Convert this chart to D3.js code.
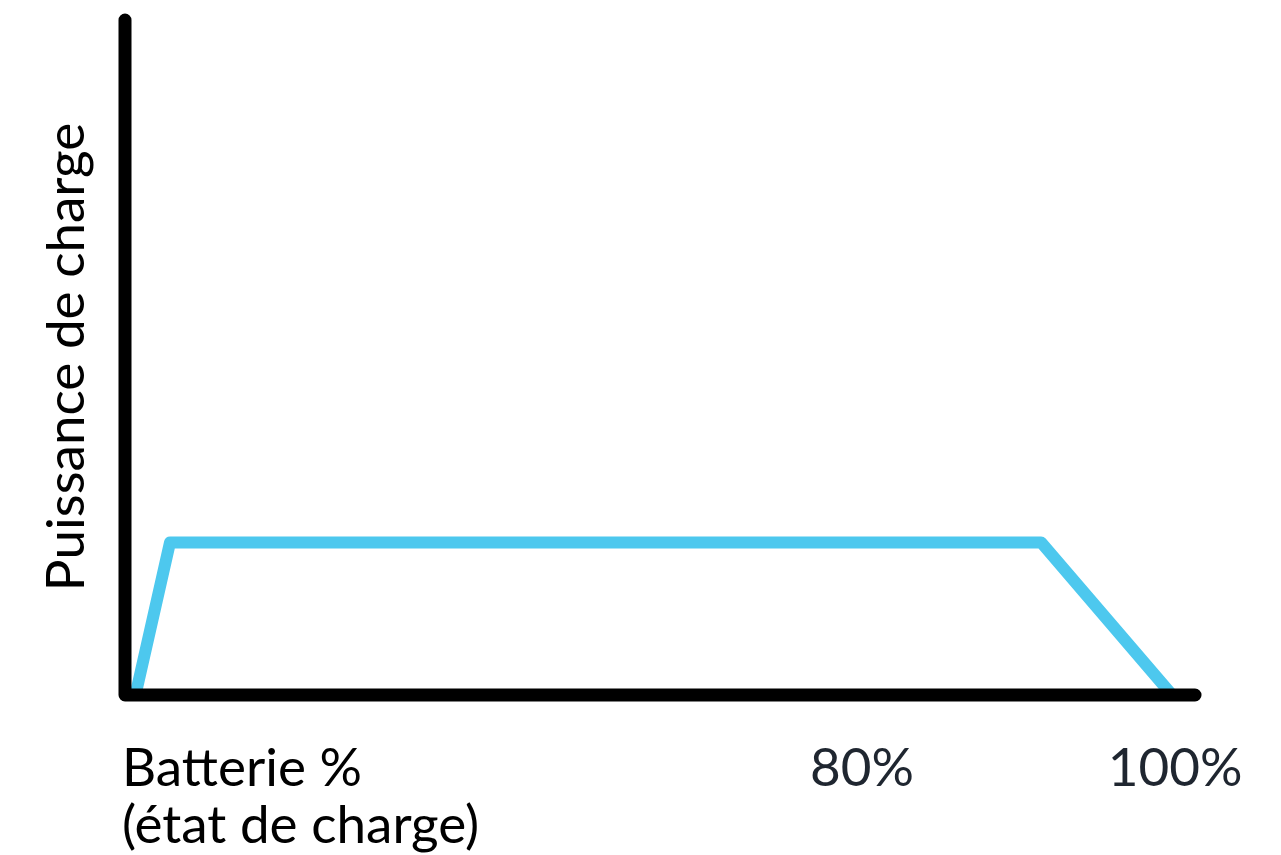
<!DOCTYPE html>
<html><head><meta charset="utf-8">
<script src="https://cdn.jsdelivr.net/npm/d3@7"></script>
<style>html,body{margin:0;padding:0;background:#fff;}svg{display:block;}</style>
</head><body>
<div id="chart"></div>
<script>
// Data (schematic charging curve)
const batteryPct = [1, 4.3, 87.5, 100];      // battery state of charge (%)
const chargePower = [0, 22.6, 22.6, 0];      // relative charging power
const tickValues = [70.4, 100.3];             // positions of tick labels on x scale
const tickLabels = ["80%", "100%"];
const xAxisTitle = ["Batterie %", "(état de charge)"];
const yAxisTitle = "Puissance de charge";

const W = 1281, H = 855;
const svg = d3.select("#chart").append("svg").attr("width", W).attr("height", H);

const x = d3.scaleLinear().domain([0, 100]).range([125, 1172]);
const y = d3.scaleLinear().domain([0, 100]).range([695, 20]);

const font = "Lato, 'Open Sans', sans-serif";
const fs = 53;

// Blue curve
const pts = batteryPct.map((v, i) => [v, chargePower[i]]);
const line = d3.line().x(d => x(d[0])).y(d => y(d[1]));
svg.append("path").datum(pts)
  .attr("d", line)
  .attr("fill", "none")
  .attr("stroke", "#4DC8EE")
  .attr("stroke-width", 12)
  .attr("stroke-linejoin", "round")
  .attr("stroke-linecap", "butt");

// Axes (L-shape)
const axisPath = d3.line()([[x(0), y(100)], [x(0), y(0)], [x(102.2), y(0)]]);
svg.append("path")
  .attr("d", axisPath)
  .attr("fill", "none")
  .attr("stroke", "#000")
  .attr("stroke-width", 13)
  .attr("stroke-linecap", "round")
  .attr("stroke-linejoin", "round");

// Tick labels
svg.selectAll("text.tick").data(tickValues).enter().append("text")
  .attr("class", "tick")
  .attr("x", d => x(d))
  .attr("y", 786)
  .attr("text-anchor", "middle")
  .attr("font-family", font)
  .attr("font-size", fs)
  .attr("fill", "#1f2630")
  .text((d, i) => tickLabels[i]);

// X axis title
svg.selectAll("text.xt").data(xAxisTitle).enter().append("text")
  .attr("class", "xt")
  .attr("x", 122)
  .attr("y", (d, i) => 786 + i * 57)
  .attr("font-family", font)
  .attr("font-size", fs)
  .attr("fill", "#000")
  .text(d => d);

// Y axis title
svg.append("text")
  .attr("transform", "translate(84,357) rotate(-90)")
  .attr("text-anchor", "middle")
  .attr("font-family", font)
  .attr("font-size", fs)
  .attr("fill", "#000")
  .text(yAxisTitle);
</script>
</body></html>
